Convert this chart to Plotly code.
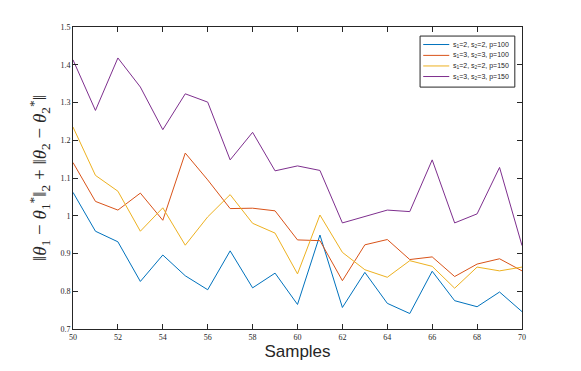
import plotly.graph_objs as go

samples = list(range(50, 71))

err_s2_p100 = [1.062, 0.959, 0.931, 0.826, 0.896, 0.841, 0.804, 0.907, 0.809, 0.848, 0.765,
               0.949, 0.757, 0.850, 0.768, 0.741, 0.853, 0.775, 0.759, 0.798, 0.746]
err_s3_p100 = [1.141, 1.038, 1.015, 1.060, 0.988, 1.166, 1.095, 1.019, 1.020, 1.013, 0.936,
               0.934, 0.828, 0.923, 0.937, 0.884, 0.891, 0.839, 0.872, 0.886, 0.854]
err_s2_p150 = [1.235, 1.107, 1.065, 0.959, 1.021, 0.922, 0.997, 1.056, 0.980, 0.954, 0.846,
               1.002, 0.903, 0.857, 0.837, 0.881, 0.866, 0.808, 0.864, 0.854, 0.864]
err_s3_p150 = [1.413, 1.279, 1.418, 1.341, 1.228, 1.323, 1.301, 1.148, 1.221, 1.119, 1.132,
               1.120, 0.981, 0.998, 1.015, 1.011, 1.148, 0.981, 1.005, 1.128, 0.921]

names = ["s<sub>1</sub>=2, s<sub>2</sub>=2, p=100",
         "s<sub>1</sub>=3, s<sub>2</sub>=3, p=100",
         "s<sub>1</sub>=2, s<sub>2</sub>=2, p=150",
         "s<sub>1</sub>=3, s<sub>2</sub>=3, p=150"]
colors = ["#0072BD", "#D95319", "#EDB120", "#7E2F8E"]

fig = go.Figure()

for ys, name, c in zip([err_s2_p100, err_s3_p100, err_s2_p150, err_s3_p150], names, colors):
    fig.add_trace(go.Scatter(x=samples, y=ys, mode='lines', name=name,
                             line=dict(color=c, width=1), showlegend=False))

# compact MATLAB-like legend box (plotly's own legend rows are too tall)
fig.add_shape(type="rect", xref="x domain", yref="y domain",
              x0=0.773, x1=0.984, y0=0.801, y1=0.970,
              line=dict(color="#262626", width=1), fillcolor="white", layer="above")
row_y = [0.942, 0.906, 0.871, 0.836]
for name, c, ry in zip(names, colors, row_y):
    fig.add_shape(type="line", xref="x domain", yref="y domain",
                  x0=0.780, x1=0.838, y0=ry, y1=ry,
                  line=dict(color=c, width=1), layer="above")
    fig.add_annotation(xref="x domain", yref="y domain", x=0.841, y=ry,
                       xanchor="left", yanchor="middle", showarrow=False, text=name,
                       font=dict(family="Liberation Sans, Arial, sans-serif", size=7,
                                 color="#262626"))

axis_style = dict(
    showline=True, mirror='ticks', linecolor="#262626", linewidth=1,
    ticks='inside', ticklen=5, tickcolor="#262626",
    showgrid=False, zeroline=False, automargin=False,
    tickfont=dict(family="Liberation Serif, DejaVu Serif, serif", size=8, color="#262626"),
)

fig.update_xaxes(range=[50, 70], dtick=2, **axis_style,
                 title=dict(text="Samples", font=dict(family="Liberation Sans, Arial, sans-serif",
                                                      size=17, color="#262626"), standoff=4))
fig.update_yaxes(range=[0.7, 1.5], dtick=0.1, **axis_style,
                 title=dict(text="‖<i>θ</i><sub>1</sub> − <i>θ</i><sub>1</sub><sup>*</sup>‖<sub>2</sub>"
                                 " + ‖<i>θ</i><sub>2</sub> − <i>θ</i><sub>2</sub><sup>*</sup>‖",
                            font=dict(family="Liberation Serif, DejaVu Serif, serif", size=19,
                                      color="#262626"), standoff=8))

# the page body adds an 8px offset, so margins are shifted to compensate
fig.update_layout(
    width=581, height=371,
    paper_bgcolor="white", plot_bgcolor="white",
    margin=dict(l=65, r=67, t=19, b=50),
    showlegend=False,
)

fig.write_html("out.html")
